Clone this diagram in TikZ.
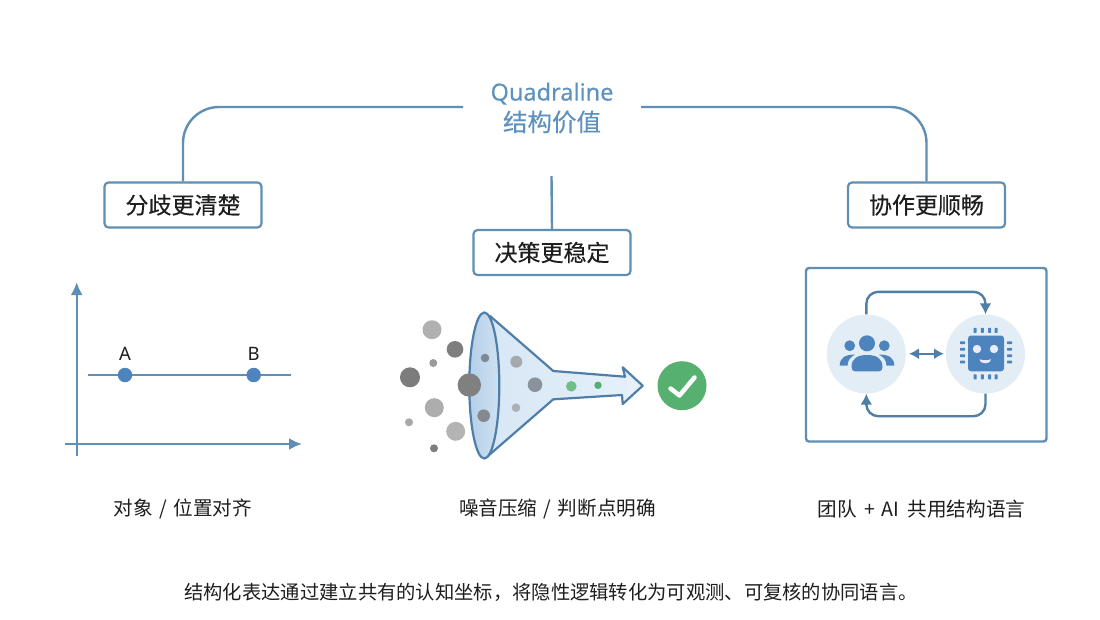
\documentclass[tikz,border=0pt]{standalone}
\usepackage{fontspec}
\setmainfont{Noto Sans}
\newfontfamily\cjk{Noto Sans CJK SC}
\newfontfamily\cjkbold[FakeBold=0.25]{Noto Sans CJK SC}
\newfontfamily\hubfont[FakeBold=0.3]{Noto Sans}
\usetikzlibrary{arrows.meta}
\definecolor{lineblue}{HTML}{5F8FB4}
\definecolor{edgeblue}{HTML}{4F7FA8}
\definecolor{iconblue}{HTML}{4D84BE}
\definecolor{titleblue}{HTML}{5E92BC}
\definecolor{discblue}{HTML}{E2EDF6}
\definecolor{inkdark}{HTML}{1E1E1E}
\definecolor{okgreen}{HTML}{56B06F}
\definecolor{conel}{HTML}{D8E7F5}
\definecolor{coner}{HTML}{E6F1FA}
\definecolor{mouthl}{HTML}{B4CFE9}
\definecolor{mouthr}{HTML}{CFE1F2}
\tikzset{
  conn/.style={draw=lineblue,line width=2.4pt},
  labelbox/.style={draw=lineblue,line width=2.2pt,fill=white,rounded corners=4pt,minimum width=157pt,minimum height=45pt,inner sep=0pt,font=\cjkbold\fontsize{23}{23}\selectfont,text=inkdark},
  caption/.style={font=\cjk\fontsize{19.6}{22}\selectfont,text=inkdark,inner sep=0pt},
  axisline/.style={draw=lineblue,line width=2.4pt,-{Latex[length=13pt,width=12pt]}},
  loopline/.style={draw=edgeblue,line width=2.4pt,rounded corners=12pt,-{Latex[length=11pt,width=12pt]}},
  disc/.style={circle,fill=discblue,minimum size=79pt,inner sep=0pt},
  pin/.style={fill=iconblue,rounded corners=0.5pt},
}
\begin{document}
\begin{tikzpicture}[x=1pt,y=-1pt]
\useasboundingbox (0,0) rectangle (1100,619);
\fill[white] (0,0) rectangle (1100,619);
% hub
\node[minimum width=178pt,minimum height=60pt,inner sep=0pt,align=center,text=titleblue] (hub) at (552,108)
  {{\hubfont\fontsize{23.5}{24}\selectfont Quadraline}\\[5pt]{\cjkbold\fontsize{24.5}{25}\selectfont 结构价值}};
\coordinate (hubstem) at (551.5,176);
\coordinate (hubleft) at (463,107);
\coordinate (hubright) at (641,107);
\node[labelbox] (clear) at (183,205) {分歧更清楚};
\node[labelbox] (stable) at (552,252.5) {决策更稳定};
\node[labelbox] (smooth) at (926.5,205) {协作更顺畅};
\draw[conn,rounded corners=36pt] (hubleft) -| (clear.north);
\draw[conn,rounded corners=36pt] (hubright) -| (smooth.north);
\draw[conn] (hubstem) -- (stable.north);
% axis chart
\coordinate (ybase) at (76.7,456);
\coordinate (ytip) at (76.7,282);
\coordinate (xbase) at (65,444);
\coordinate (xtip) at (302,444);
\draw[axisline] (ybase) -- (ytip);
\draw[axisline] (xbase) -- (xtip);
\coordinate (rowl) at (88,375);
\coordinate (rowr) at (291,375);
\draw[conn] (rowl) -- (rowr);
\node[circle,fill=iconblue,minimum size=14.5pt,inner sep=0pt] (ptA) at (125,375) {};
\node[circle,fill=iconblue,minimum size=14.5pt,inner sep=0pt] (ptB) at (253.7,375) {};
\node[font=\fontsize{18.5}{20}\selectfont,text=inkdark,inner sep=0pt] (lblA) at (125,353.5) {A};
\node[font=\fontsize{18.5}{20}\selectfont,text=inkdark,inner sep=0pt] (lblB) at (253.7,353.5) {B};
% funnel
\path[left color=conel,right color=coner,draw=edgeblue,line width=2.2pt,line join=round]
  (490,316) -- (553.3,371) -- (625,376.7) -- (622.7,367.3) -- (642.7,385.7) -- (622.7,404) -- (622,395) -- (553.3,399.3) -- (488.3,455.7) -- cycle;
\path[left color=mouthl,right color=mouthr,draw=edgeblue,line width=2.2pt] (484.3,385.5) ellipse [x radius=15,y radius=73];
\foreach \x/\y/\r/\c in {
  432/329.7/9.5/B0B0B0, 455/349.3/8.3/7E7E7E, 433.3/363/4/9A9A9A, 410/377.3/10/7C7C7C,
  469.3/385/11.7/808080, 485/358/4.3/7F8A94, 516.3/361.7/6/A5A9AD, 535/384.7/7.3/8A939B,
  516/407.7/4.3/AAB0B6, 483.7/415.7/6.3/85898D, 434.3/407.7/9.5/ADADAD, 409/422.3/4/A8A8A8,
  455.7/431.3/9.5/B4B4B4, 434/448.3/4/7E7E7E, 571.3/386.3/5.3/70BD85, 598/385.3/3.7/55AF70}
  {\definecolor{grainc}{HTML}{\c}\fill[grainc] (\x,\y) circle[radius=\r];}
\node[circle,fill=okgreen,minimum size=49pt,inner sep=0pt] (ok) at (682,385.7) {};
\draw[white,line width=4.5pt,line cap=round,line join=round] (670.5,388.5) -- (679.5,395.5) -- (694.5,377.5);
% team panel
\draw[draw=lineblue,line width=2.4pt,rounded corners=3pt] (806,268) rectangle (1046.5,441.5);
\node[disc] (team) at (866.3,354) {};
\node[disc] (chip) at (985.5,354) {};
\draw[loopline] (team.north) -- ++(0,-22.5) -| (chip.north);
\draw[loopline] (chip.south) -- ++(0,22.5) -| (team.south);
\coordinate (swapl) at (909,353.7);
\coordinate (swapr) at (944,353.7);
\draw[draw=edgeblue,line width=2.4pt,{Latex[length=10pt,width=11pt]}-{Latex[length=10pt,width=11pt]}] (swapl) -- (swapr);
% people icon
\fill[iconblue] (867,343.3) circle[radius=8];
\fill[iconblue] (849.7,345.7) circle[radius=5.4];
\fill[iconblue] (884.3,345.7) circle[radius=5.4];
\fill[iconblue] (851.5,367) .. controls (851.5,358) and (858,355) .. (867,355) .. controls (876,355) and (882.5,358) .. (882.5,367) .. controls (882.5,370) and (881,371.3) .. (879,371.3) -- (855,371.3) .. controls (853,371.3) and (851.5,370) .. cycle;
\fill[iconblue] (839.7,365.7) .. controls (839.7,358) and (845,354.3) .. (855,354.7) .. controls (851,356.5) and (847.5,360) .. (847.5,365.7) -- cycle;
\fill[iconblue] (894.3,365.7) .. controls (894.3,358) and (889,354.3) .. (879,354.7) .. controls (883,356.5) and (886.5,360) .. (886.5,365.7) -- cycle;
% chip icon
\fill[iconblue,rounded corners=3pt] (968,335.5) rectangle (1004,371.3);
\foreach \x in {975,982.3,989.7,996} {
  \fill[pin] (\x-1.5,327.8) rectangle (\x+1.5,332.8);
  \fill[pin] (\x-1.5,374.3) rectangle (\x+1.5,379.3);
}
\foreach \y in {342.7,349.3,355.7,362} {
  \fill[pin] (960,\y-1.4) rectangle (965,\y+1.4);
  \fill[pin] (1007,\y-1.4) rectangle (1012,\y+1.4);
}
\fill[white!92!blue] (977,349) circle[radius=4.2];
\fill[white!92!blue] (994,349) circle[radius=4.2];
\fill[white!92!blue] (979.5,359.3) .. controls (983,360.5) and (987.5,360.5) .. (991,359.3) .. controls (990,362.5) and (988,363.3) .. (985.3,363.3) .. controls (982.5,363.3) and (980.5,362.5) .. cycle;
% captions
\node[caption] (capa) at (183,509) {对象\hspace{2pt} / \hspace{2pt}位置对齐};
\node[caption] (capb) at (557.5,509) {噪音压缩\hspace{2pt} / \hspace{2pt}判断点明确};
\node[caption] (capc) at (921.5,509) {团队\hspace{3pt} + \hspace{2pt}AI\hspace{4pt} 共用结构语言};
\node[caption,font=\cjk\fontsize{19.3}{22}\selectfont] (note) at (551,592) {结构化表达通过建立共有的认知坐标，将隐性逻辑转化为可观测、可复核的协同语言。};
\end{tikzpicture}
\end{document}
